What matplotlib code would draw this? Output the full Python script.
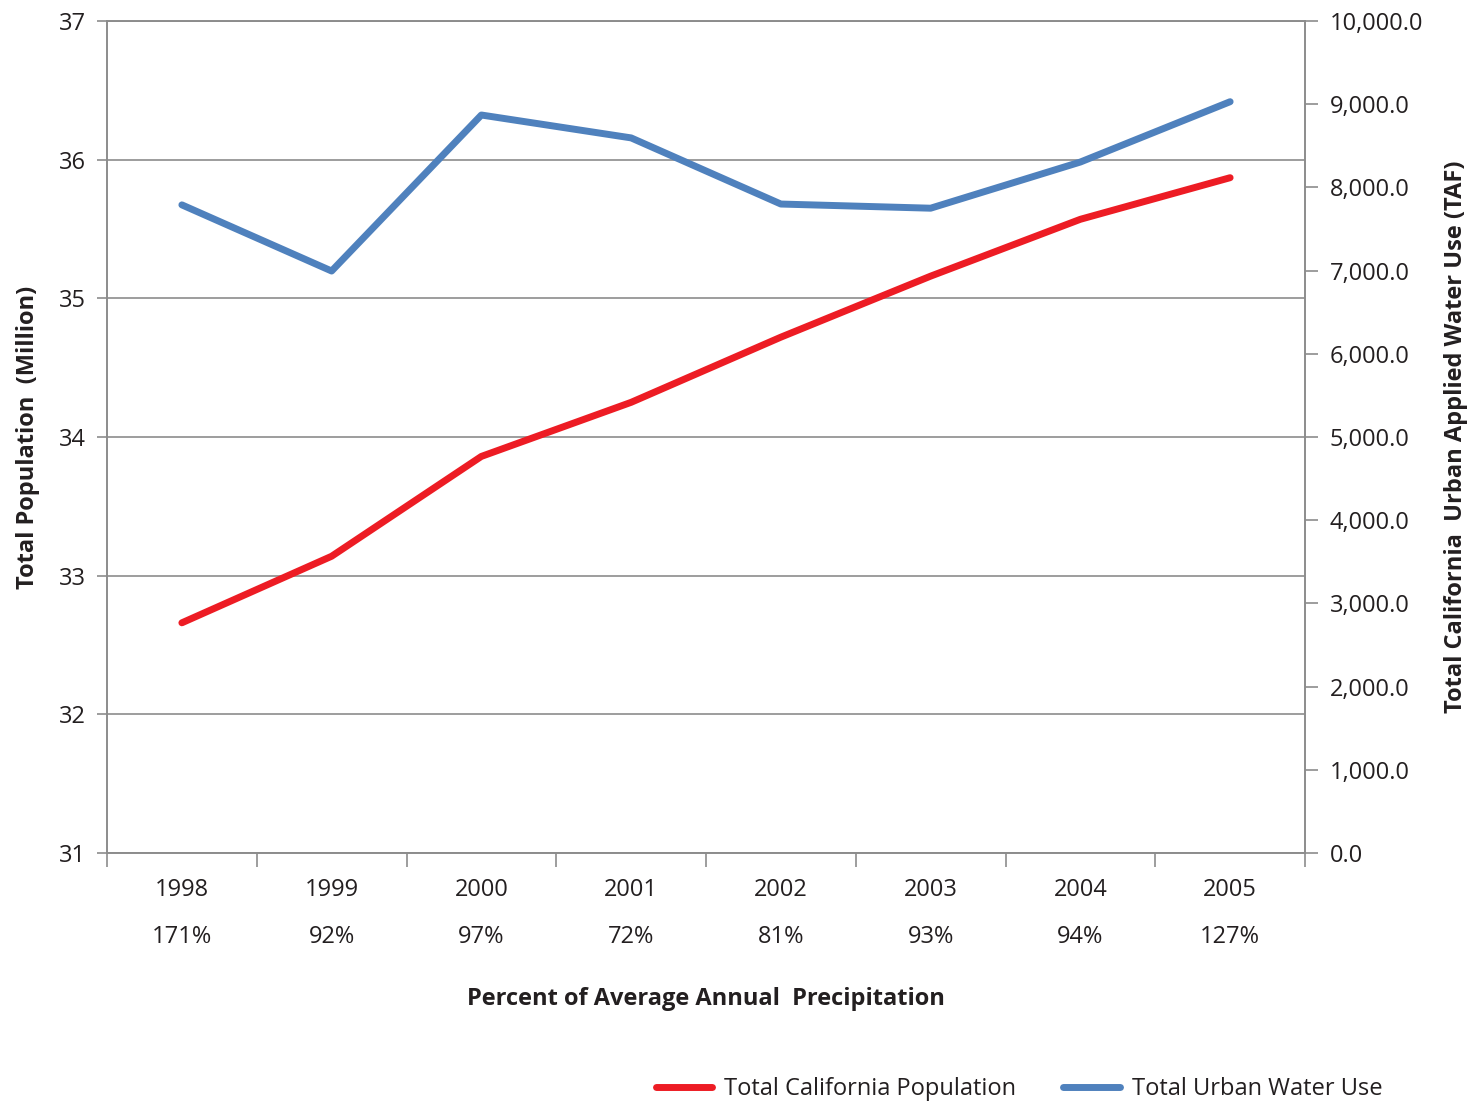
import matplotlib
matplotlib.use("Agg")
import matplotlib.pyplot as plt
from matplotlib.ticker import FuncFormatter, FixedLocator

years = ["1998", "1999", "2000", "2001", "2002", "2003", "2004", "2005"]
precip = ["171%", "92%", "97%", "72%", "81%", "93%", "94%", "127%"]
population = [32.66, 33.14, 33.86, 34.25, 34.72, 35.16, 35.57, 35.87]
water_use = [7790, 6995, 8870, 8595, 7800, 7750, 8305, 9030]

plt.rcParams['font.family'] = ['Open Sans', 'DejaVu Sans']
txt = '#231f20'
gray = '#8c8c8c'
fs = 17

fig = plt.figure(figsize=(14.71, 11.04), dpi=100)
ax = fig.add_axes([107/1471, 1-853/1104, (1305-107)/1471, (853-21)/1104])
ax2 = ax.twinx()

x = list(range(len(years)))
l1, = ax.plot(x, population, color='#ED1C24', lw=5, solid_capstyle='round', zorder=3)
l2, = ax2.plot(x, water_use, color='#4F81BD', lw=5, solid_capstyle='round', zorder=3)

ax.set_xlim(-0.5, 7.5)
ax.set_ylim(31, 37)
ax2.set_ylim(0, 10000)
ax.set_yticks(range(31, 38))
ax2.set_yticks(range(0, 10001, 1000))
ax2.yaxis.set_major_formatter(FuncFormatter(lambda v, p: f"{v:,.1f}"))

ax.set_xticks([i - 0.5 for i in range(9)])
ax.set_xticklabels([])
ax.xaxis.set_minor_locator(FixedLocator(x))
ax.set_xticklabels([f"{y}\n{p}" for y, p in zip(years, precip)], minor=True,
                   linespacing=2.3)
ax.tick_params(axis='x', which='major', length=10, width=1.2, color=gray, direction='out')
ax.tick_params(axis='x', which='minor', length=0, pad=18, labelsize=fs, labelcolor=txt)
ax.tick_params(axis='y', length=7, width=1.2, color=gray, labelsize=fs, labelcolor=txt, pad=8)
ax2.tick_params(axis='y', length=9, width=1.2, color=gray, labelsize=fs, labelcolor=txt, pad=9)

ax.yaxis.grid(True, color=gray, lw=1.2)
ax.set_axisbelow(True)
for a in (ax, ax2):
    for s in a.spines.values():
        s.set_color(gray)
        s.set_linewidth(1.2)

ax.set_ylabel("Total Population  (Million)", fontsize=fs, fontweight='bold', color=txt, labelpad=14)
ax2.set_ylabel("Total California  Urban Applied Water Use (TAF)", fontsize=fs, fontweight='bold',
               color=txt, labelpad=15)
ax.set_xlabel("Percent of Average Annual  Precipitation", fontsize=fs, fontweight='bold',
              color=txt, labelpad=27)

fig.legend([l1, l2], ["Total California Population", "Total Urban Water Use"],
           loc='center', bbox_to_anchor=(1019/1471, 1-1089/1104), ncol=2, frameon=False,
           fontsize=fs, handlelength=2.4, columnspacing=2.0, handletextpad=0.5,
           labelcolor=txt)

fig.savefig("out.png", dpi=100)
